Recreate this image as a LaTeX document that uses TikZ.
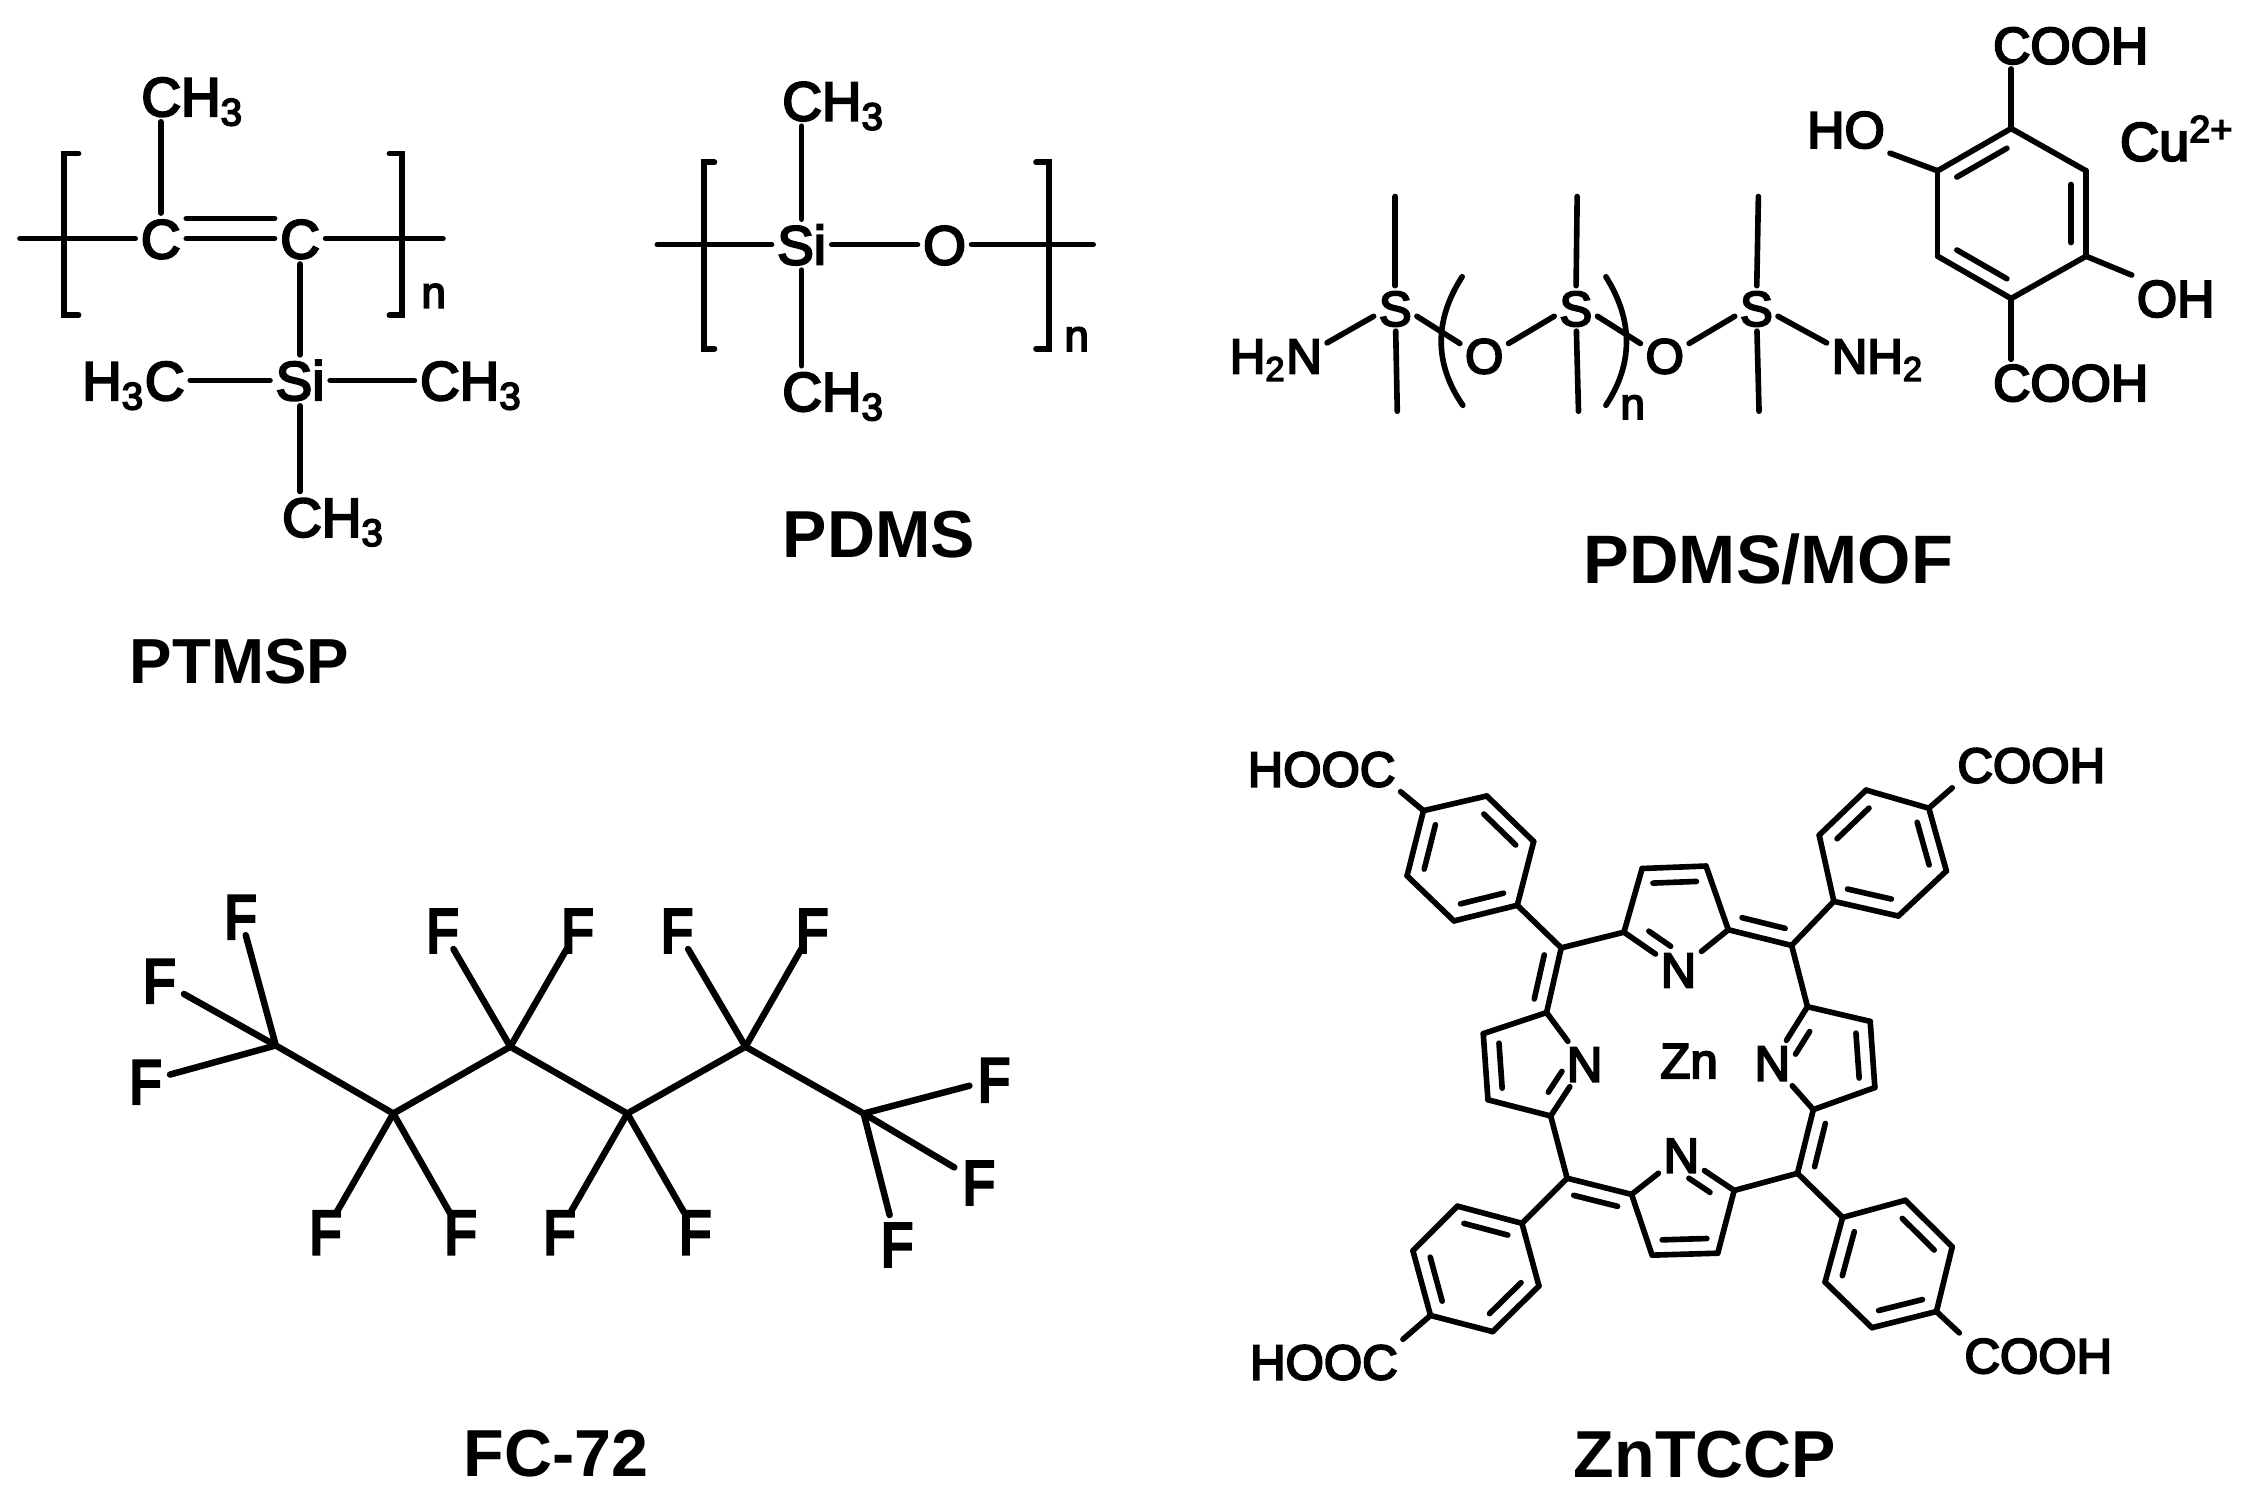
\documentclass[tikz,border=0pt]{standalone}
\usepackage{fontspec}
\setmainfont{Liberation Sans}
\newfontfamily\atomfont[FakeBold=4]{Liberation Sans}
\newfontfamily\fluorfont[FakeStretch=.84,FakeBold=5]{Liberation Sans}
\usetikzlibrary{calc}
\tikzset{
  bond/.style={line width=1.6pt,line cap=round,black},
  fbond/.style={line width=1.85pt,line cap=round,black},
  atom/.style={font=\atomfont\fontsize{14}{16}\selectfont,inner sep=.045cm,text height=.35cm,text depth=0pt},
  bigatom/.style={font=\atomfont\fontsize{14.7}{16}\selectfont,inner sep=.045cm,text height=.365cm,text depth=0pt},
  tallatom/.style={font=\atomfont\fontsize{15.6}{18}\selectfont,inner sep=.05cm,text height=.395cm,text depth=0pt},
  fatom/.style={font=\fluorfont\fontsize{17.6}{20}\selectfont,inner xsep=.08cm,inner ysep=-.04cm,text height=.445cm,text depth=0pt},
  repeatn/.style={font=\atomfont\fontsize{12.5}{14}\selectfont,inner sep=0pt},
  molname/.style={font=\bfseries\fontsize{18.9}{22}\selectfont,inner sep=0pt,text height=.47cm,text depth=0pt}
}
\newcommand{\dblbond}[4][.16]{\draw[bond] ($(#2)!#1!(#3)!.15cm!#4:(#3)$) -- ($(#2)!{1-#1}!(#3)!.15cm!#4:(#3)$);}
\begin{document}
\begin{tikzpicture}[x=.01cm,y=-.01cm]
  \useasboundingbox (0,0) rectangle (2249,1504);

  \begin{scope}[shift={(0,40)},x=.007134cm,y=-.004331cm]
    \path (225,458) node [tallatom] (ptc1) {C}
          (420,458) node [tallatom] (ptc2) {C}
          (420,785) node [tallatom] (ptsi) {Si}
          (190,130) node [tallatom,anchor=west] (ptme1) {CH\textsubscript{3}}
          (107,785) node [tallatom,anchor=west] (ptme2) {H\textsubscript{3}C}
          (580,785) node [tallatom,anchor=west] (ptme3) {CH\textsubscript{3}}
          (387,1100) node [tallatom,anchor=west] (ptme4) {CH\textsubscript{3}}
          (607,590) node [repeatn] (ptn) {n}
          (335,1430) node [molname,font=\bfseries\fontsize{18.1}{22}\selectfont] (ptname) {PTMSP}
          (28,458) coordinate (ptl) (620,458) coordinate (ptr);
    \foreach \a/\b in {ptl/ptc1,ptc1/ptc2,ptc2/ptr,ptc2/ptsi,ptsi/ptme2,ptsi/ptme3}
      \draw[bond] (\a) -- (\b);
    \draw[bond] (ptc1) -- (ptc1 |- ptme1.south);
    \draw[bond] (ptsi) -- (ptsi |- ptme4.north);
    \draw[bond] ([yshift=.2cm]ptc1.east) -- ([yshift=.2cm]ptc2.west);
    \draw[bond] (110,262) -- (90,262) -- (90,635) -- (110,635);
    \draw[bond] (545,262) -- (563,262) -- (563,635) -- (545,635);

    \path (1122,472) node [tallatom] (pdsi) {Si}
          (1322,472) node [tallatom] (pdo) {O}
          (1087,140) node [tallatom,anchor=west] (pdme1) {CH\textsubscript{3}}
          (1087,810) node [tallatom,anchor=west] (pdme2) {CH\textsubscript{3}}
          (1507,690) node [repeatn] (pdn) {n}
          (1230,1140) node [molname] (pdname) {PDMS}
          (920,472) coordinate (pdl) (1530,472) coordinate (pdr);
    \foreach \a/\b in {pdl/pdsi,pdsi/pdo,pdo/pdr}
      \draw[bond] (\a) -- (\b);
    \draw[bond] (pdsi) -- (pdsi |- pdme1.south);
    \draw[bond] (pdsi) -- (pdsi |- pdme2.north);
    \draw[bond] (1000,282) -- (985,282) -- (985,712) -- (1000,712);
    \draw[bond] (1450,282) -- (1468,282) -- (1468,712) -- (1450,712);
  \end{scope}

  \begin{scope}[shift={(1200,0)},x=.006682cm,y=-.003949cm]
    \path (292,780) node [atom] (ms1) {S}
          (562,780) node [atom] (ms2) {S}
          (832,780) node [atom] (ms3) {S}
          (425,900) node [atom] (mo1) {O}
          (695,900) node [atom] (mo2) {O}
          (190,900) node [atom,anchor=east] (mnh1) {H\textsubscript{2}N}
          (937,900) node [atom,anchor=west] (mnh2) {NH\textsubscript{2}}
          (647,1030) node [repeatn] (mn) {n}
          (850,1415) node [molname,font=\bfseries\fontsize{19.5}{22}\selectfont] (mname) {PDMS/MOF}
          (292,497) coordinate (mt1) (295,1040) coordinate (mb1)
          (564,497) coordinate (mt2) (566,1040) coordinate (mb2)
          (835,497) coordinate (mt3) (836,1040) coordinate (mb3);
    \foreach \i in {1,2,3} {
      \draw[bond] (ms\i) -- (mt\i);
      \draw[bond] (ms\i) -- (mb\i);
    }
    \draw[bond] (ms1.200) -- ([yshift=.13cm]mnh1.east);
    \draw[bond] (ms1.340) -- (mo1.153);
    \draw[bond] (mo1.27) -- (ms2.200);
    \draw[bond] (ms2.340) -- (mo2.153);
    \draw[bond] (mo2.27) -- (ms3.200);
    \draw[bond] (ms3.340) -- ([yshift=.13cm]mnh2.west);
    \draw[bond] (392,700) .. controls (350,810) and (350,920) .. (393,1025);
    \draw[bond] (607,700) .. controls (648,810) and (648,920) .. (607,1025);

    \path (1213,325) coordinate (mr1) (1325,432) coordinate (mr2)
          (1325,648) coordinate (mr3) (1213,755) coordinate (mr4)
          (1103,648) coordinate (mr5) (1103,432) coordinate (mr6)
          (1302,115) node [bigatom] (mcooh1) {COOH}
          (1302,968) node [bigatom] (mcooh2) {COOH}
          (966,328) node [bigatom] (mho) {HO}
          (1459,755) node [bigatom] (moh) {OH}
          (1368,360) node [bigatom,anchor=west,font=\atomfont\fontsize{15.4}{18}\selectfont] (mcu) {Cu\textsuperscript{2+}};
    \foreach \a/\b in {mr1/mr2,mr2/mr3,mr3/mr4,mr4/mr5,mr5/mr6,mr6/mr1}
      \draw[bond] (\a) -- (\b);
    \draw[bond] (mr1) -- (mr1 |- mcooh1.south);
    \draw[bond] (mr4) -- (mr4 |- mcooh2.north);
    \draw[bond] (mr6) -- (mho.south east);
    \draw[bond] (mr3) -- (moh.north west);
    \dblbond{mr1}{mr6}{90}
    \dblbond{mr2}{mr3}{-90}
    \dblbond{mr5}{mr4}{90}
  \end{scope}

  \begin{scope}[shift={(100,860)},x=.006051cm,y=-.004076cm]
    \path (290,455) coordinate (fc1) (484,622) coordinate (fc2)
          (677,458) coordinate (fc3) (870,622) coordinate (fc4)
          (1065,458) coordinate (fc5) (1260,622) coordinate (fc6)
          (232,138) node [fatom] (ff1) {F}
          (98,295) node [fatom] (ff2) {F}
          (75,543) node [fatom] (ff3) {F}
          (372,912) node [fatom] (ff4) {F}
          (595,912) node [fatom] (ff5) {F}
          (565,172) node [fatom] (ff6) {F}
          (788,172) node [fatom] (ff7) {F}
          (758,912) node [fatom] (ff8) {F}
          (982,912) node [fatom] (ff9) {F}
          (952,172) node [fatom] (ff10) {F}
          (1175,172) node [fatom] (ff11) {F}
          (1475,538) node [fatom] (ff12) {F}
          (1450,790) node [fatom] (ff13) {F}
          (1315,942) node [fatom,inner ysep=.06cm] (ff14) {F}
          (752,1455) node [molname] (fname) {FC-72};
    \foreach \a/\b in {fc1/fc2,fc2/fc3,fc3/fc4,fc4/fc5,fc5/fc6,
                       fc1/ff1,fc1/ff2,fc1/ff3,fc2/ff4,fc2/ff5,fc3/ff6,fc3/ff7,
                       fc4/ff8,fc4/ff9,fc5/ff10,fc5/ff11,fc6/ff12,fc6/ff13,fc6/ff14}
      \draw[fbond] (\a) -- (\b);
  \end{scope}

  \begin{scope}[shift={(1230,720)},x=.00586cm,y=-.004904cm]
    \path (565,465) coordinate (zm1) (958,460) coordinate (zm2)
          (968,925) coordinate (zm3) (575,935) coordinate (zm4)
          (672,433) coordinate (za1) (703,303) coordinate (za2)
          (812,298) coordinate (za3) (850,428) coordinate (za4)
          (540,597) coordinate (zb1) (432,640) coordinate (zb2)
          (440,775) coordinate (zb3) (547,808) coordinate (zb4)
          (985,585) coordinate (zc1) (1092,615) coordinate (zc2)
          (1100,750) coordinate (zc3) (995,795) coordinate (zc4)
          (685,968) coordinate (zd1) (720,1092) coordinate (zd2)
          (832,1088) coordinate (zd3) (860,960) coordinate (zd4)
          (765,510) node [atom] (zna) {N}
          (605,702) node [atom] (znb) {N}
          (925,700) node [atom] (znc) {N}
          (770,888) node [atom] (znd) {N}
          (783,695) node [atom] (zzn) {Zn}
          (810,1498) node [molname] (zname) {ZnTCCP};
    \foreach \a/\b in {zm1/za1,za1/za2,za2/za3,za3/za4,za4/zm2,za1/zna,zna/za4,
                       zm1/zb1,zb1/zb2,zb2/zb3,zb3/zb4,zb4/zm4,zb1/znb,zb4/znb,
                       zm2/zc1,zc1/zc2,zc2/zc3,zc3/zc4,zc4/zm3,zc1/znc,znc/zc4,
                       zm4/zd1,zd1/zd2,zd2/zd3,zd3/zd4,zd4/zm3,zd1/znd,znd/zd4}
      \draw[bond] (\a) -- (\b);
    \dblbond{za2}{za3}{-90}
    \dblbond{za4}{zm2}{90}
    \dblbond[.3]{za1}{zna}{90}
    \dblbond{zm1}{zb1}{-90}
    \dblbond{zb2}{zb3}{90}
    \dblbond[.3]{zb4}{znb}{90}
    \dblbond{zc2}{zc3}{-90}
    \dblbond[.3]{zc1}{znc}{90}
    \dblbond{zc4}{zm3}{90}
    \dblbond{zm4}{zd1}{-90}
    \dblbond{zd2}{zd3}{90}
    \dblbond[.3]{znd}{zd4}{-90}

    \path (490,378) coordinate (zp1) (518,248) coordinate (zp2)
          (438,155) coordinate (zp3) (330,185) coordinate (zp4)
          (302,318) coordinate (zp5) (382,410) coordinate (zp6)
          (1030,370) coordinate (zq1) (1140,400) coordinate (zq2)
          (1222,308) coordinate (zq3) (1192,180) coordinate (zq4)
          (1085,143) coordinate (zq5) (1005,235) coordinate (zq6)
          (1045,1015) coordinate (zr1) (1152,980) coordinate (zr2)
          (1232,1075) coordinate (zr3) (1205,1207) coordinate (zr4)
          (1095,1240) coordinate (zr5) (1015,1147) coordinate (zr6)
          (498,1027) coordinate (zs1) (388,992) coordinate (zs2)
          (312,1083) coordinate (zs3) (342,1215) coordinate (zs4)
          (448,1248) coordinate (zs5) (527,1155) coordinate (zs6)
          (291,100) node [atom,anchor=east] (zhooc1) {HOOC}
          (1232,92) node [atom,anchor=west] (zcooh1) {COOH}
          (1244,1297) node [atom,anchor=west] (zcooh2) {COOH}
          (295,1310) node [atom,anchor=east] (zhooc2) {HOOC};
    \foreach \r in {p,q,r,s} {
      \foreach \i/\j in {1/2,2/3,3/4,4/5,5/6,6/1}
        \draw[bond] (z\r\i) -- (z\r\j);
    }
    \draw[bond] (zm1) -- (zp1);
    \draw[bond] (zm2) -- (zq1);
    \draw[bond] (zm3) -- (zr1);
    \draw[bond] (zm4) -- (zs1);
    \draw[bond] (zp4) -- (zhooc1.south east);
    \draw[bond] (zq4) -- (zcooh1.south west);
    \draw[bond] (zr4) -- (zcooh2.north west);
    \draw[bond] (zs4) -- (zhooc2.north east);
    \dblbond{zp3}{zp2}{-90}
    \dblbond{zp4}{zp5}{90}
    \dblbond{zp6}{zp1}{90}
    \dblbond{zq1}{zq2}{90}
    \dblbond{zq3}{zq4}{90}
    \dblbond{zq6}{zq5}{-90}
    \dblbond{zr2}{zr3}{-90}
    \dblbond{zr4}{zr5}{-90}
    \dblbond{zr6}{zr1}{-90}
    \dblbond{zs1}{zs2}{90}
    \dblbond{zs3}{zs4}{90}
    \dblbond{zs5}{zs6}{90}
  \end{scope}
\end{tikzpicture}
\end{document}
